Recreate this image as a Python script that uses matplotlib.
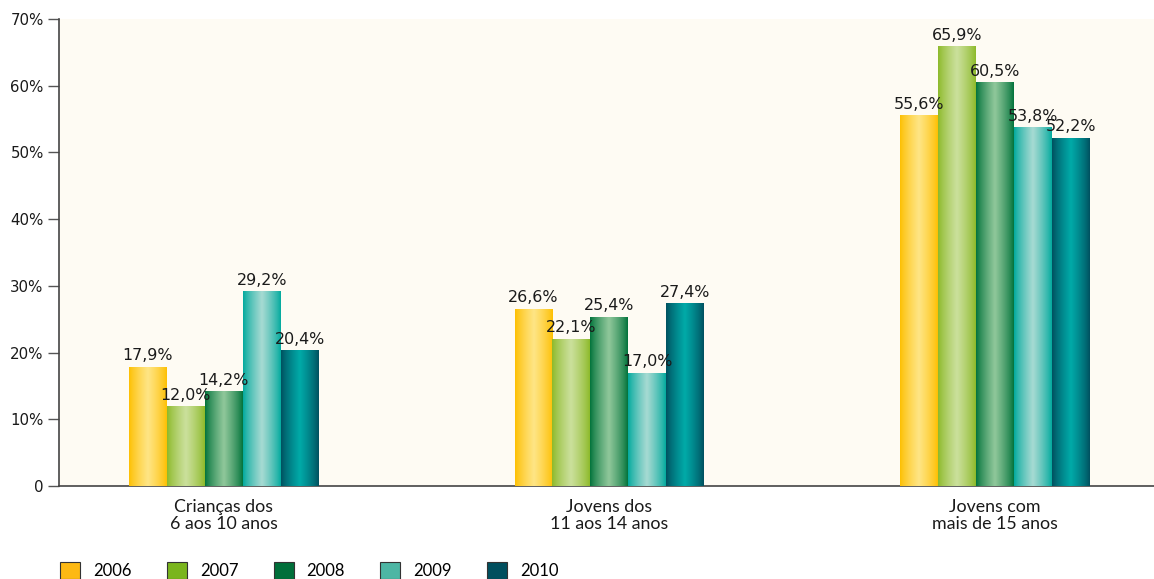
import numpy as np
import matplotlib
matplotlib.use("Agg")
import matplotlib.pyplot as plt
import matplotlib.patches as patches
from matplotlib.colors import LinearSegmentedColormap

# Data
categories = ["Crianças dos\n6 aos 10 anos", "Jovens dos\n11 aos 14 anos", "Jovens com\nmais de 15 anos"]
years = ["2006", "2007", "2008", "2009", "2010"]
v2006 = [17.9, 26.6, 55.6]
v2007 = [12.0, 22.1, 65.9]
v2008 = [14.2, 25.4, 60.5]
v2009 = [29.2, 17.0, 53.8]
v2010 = [20.4, 27.4, 52.2]
series = [v2006, v2007, v2008, v2009, v2010]

# Bar gradients: (edge colour, highlight colour) and legend swatch colours
edge_cols = ["#FDBF00", "#8CB928", "#00723A", "#00A99D", "#004F5E"]
mid_cols = ["#FFE585", "#CBE09C", "#8FC79A", "#A6DAD2", "#00AAA8"]
legend_cols = ["#FDB913", "#7AB51D", "#006F3A", "#4DB6A4", "#004F5E"]

fig = plt.figure(figsize=(11.54, 5.79), dpi=100)
ax = fig.add_axes([0.0511, 0.1606, 0.9489, 0.8066])
ax.set_facecolor("#FEFBF3")

x = np.arange(len(categories))
bw = 0.0985
grad = np.concatenate([np.linspace(0, 1, 50) ** 0.8, np.linspace(1, 0, 50) ** 0.8]).reshape(1, -1)

for i, vals in enumerate(series):
    cmap = LinearSegmentedColormap.from_list("g%d" % i, [edge_cols[i], mid_cols[i]])
    bars = ax.bar(x + (i - 2) * bw, vals, bw, color=edge_cols[i], linewidth=0, zorder=2)
    for b, v in zip(bars, vals):
        im = ax.imshow(grad, cmap=cmap, aspect="auto", interpolation="bicubic",
                       extent=(b.get_x(), b.get_x() + b.get_width(), 0, v), zorder=3)
        im.set_clip_path(b)
        ax.text(b.get_x() + b.get_width() / 2, v + 0.5, f"{v:.1f}%".replace(".", ","),
                ha="center", va="bottom", fontsize=11.4, color="#1a1a1a", zorder=4)

ax.set_xlim(-0.4275, 2.412)
ax.set_ylim(0, 70)
ax.set_yticks(range(0, 71, 10))
ax.set_yticklabels(["0"] + [f"{t}%" for t in range(10, 71, 10)], fontsize=10.8, color="#1a1a1a")
ax.set_xticks(x)
ax.set_xticklabels(categories, family="Lato", fontsize=12.8, color="#1a1a1a", linespacing=1.12)
ax.tick_params(axis="x", length=0, pad=9)
ax.tick_params(axis="y", length=8, width=1, color="#555555", pad=3)
for s in ["top", "right"]:
    ax.spines[s].set_visible(False)
ax.spines["left"].set_color("#444444")
ax.spines["bottom"].set_color("#444444")
ax.spines["left"].set_linewidth(1.2)
ax.spines["bottom"].set_linewidth(1.2)

# Legend
handles = [patches.Patch(facecolor=c, edgecolor="#333333", linewidth=0.8) for c in legend_cols]
fig.legend(handles, years, loc="lower left", bbox_to_anchor=(0.0389, -0.026), ncol=5,
           frameon=False, handlelength=1.2, handleheight=1.2, handletextpad=0.78,
           columnspacing=2.12, prop={"family": "Lato", "size": 12})

fig.savefig("out.png", dpi=100)
